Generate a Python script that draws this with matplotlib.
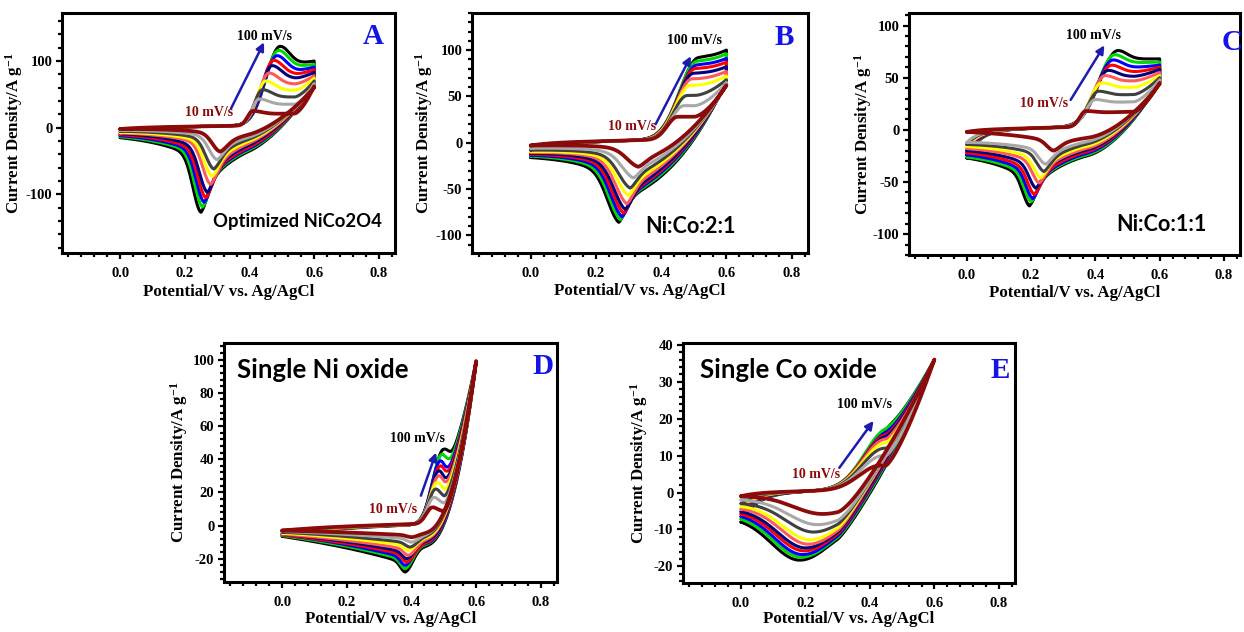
import numpy as np
import matplotlib
matplotlib.use("Agg")
import matplotlib.pyplot as plt
from matplotlib.ticker import MultipleLocator, FormatStrFormatter

plt.rcParams['font.family'] = ['Liberation Serif', 'DejaVu Serif']
plt.rcParams['font.weight'] = 'bold'
plt.rcParams['axes.labelweight'] = 'bold'
plt.rcParams['axes.unicode_minus'] = False
plt.rcParams['mathtext.fontset'] = 'custom'
plt.rcParams['mathtext.bf'] = 'Liberation Serif:bold'
plt.rcParams['mathtext.rm'] = 'Liberation Serif:bold'
plt.rcParams['mathtext.default'] = 'bf'

# ---------------- data ----------------
SCAN_RATES = [10, 20, 30, 40, 50, 60, 70, 80, 90, 100]   # mV/s
COLORS = ['#8b0a0a', '#a8a8a8', '#404040', '#ffff00', '#ff5a5a',
          '#000080', '#ff0000', '#0000ff', '#00d800', '#000000']
X_TICKS = [0.0, 0.2, 0.4, 0.6, 0.8]

# Panel A : Optimized NiCo2O4
A_EPA = [0.41, 0.43, 0.44, 0.45, 0.46, 0.47, 0.475, 0.485, 0.49, 0.495]
A_IPA = [25, 43, 57, 70, 82, 93, 101, 108, 116, 122]
A_I6A = [62, 66, 70, 74, 78, 83, 87, 91, 95, 100]
A_EPC = [0.31, 0.30, 0.29, 0.285, 0.28, 0.27, 0.265, 0.26, 0.255, 0.25]
A_IPC = [-36, -48, -62, -73, -85, -97, -105, -112, -119, -127]
A_I6C = [60, 60, 61, 62, 62, 63, 63, 64, 64, 65]
A_I0 = [-2, -4, -5.5, -7, -8, -9, -10.5, -12, -13.5, -15]
A_IMC = [-10, -14, -17, -20, -23, -26, -29, -31, -33, -35]
A_Y_TICKS = [-100, 0, 100]

# Panel B : Ni:Co 2:1
B_EPA = [0.45, 0.47, 0.48, 0.49, 0.495, 0.5, 0.505, 0.51, 0.51, 0.515]
B_IPA = [28, 40, 51, 62, 69, 75, 80, 84, 88, 92]
B_I6A = [62, 65, 68, 72, 77, 82, 87, 91, 96, 100]
B_EPC = [0.33, 0.315, 0.305, 0.30, 0.295, 0.29, 0.285, 0.28, 0.275, 0.27]
B_IPC = [-26, -38, -49, -57, -66, -72, -76, -80, -83, -86]
B_I6C = [62, 62, 63, 63, 64, 64, 65, 65, 66, 67]
B_I0 = [-3, -6, -8, -9.5, -10.5, -11.5, -12.5, -13.5, -14.5, -16]
B_IMC = [-10, -15, -19, -22, -25, -28, -30, -32, -34, -36]
B_Y_TICKS = [-100, -50, 0, 50, 100]

# Panel C : Ni:Co 1:1
C_EPA = [0.37, 0.40, 0.41, 0.42, 0.43, 0.44, 0.45, 0.455, 0.46, 0.47]
C_IPA = [18, 29, 37, 45, 52, 57, 62, 67, 72, 76]
C_I6A = [45, 48, 50, 52, 55, 58, 60, 62, 65, 68]
C_EPC = [0.27, 0.245, 0.24, 0.23, 0.225, 0.215, 0.21, 0.205, 0.2, 0.195]
C_IPC = [-20, -33, -40, -46, -51, -56, -62, -66, -69, -73]
C_I6C = [44, 44, 44, 45, 45, 45, 46, 46, 46, 47]
C_I0 = [-2, -12, -14, -16, -18, -20, -22, -24, -26, -27]
C_IMC = [-6, -9, -11, -13, -15, -16.5, -18, -19.5, -21, -22]
C_Y_TICKS = [-100, -50, 0, 50, 100]

# Panel D : single Ni oxide
D_EPA = [0.465, 0.47, 0.475, 0.48, 0.485, 0.485, 0.49, 0.49, 0.495, 0.5]
D_IPA = [11, 17, 22, 26, 30, 33, 36, 39, 43, 46]
D_I6A = [99, 99, 99, 99, 99, 99, 99, 99, 99, 99]
D_EPC = [0.40, 0.40, 0.395, 0.39, 0.39, 0.385, 0.385, 0.38, 0.38, 0.38]
D_IPC = [-7, -10, -13, -15, -18, -20, -22, -24, -26, -28]
D_I6C = [99, 99, 99, 99, 99, 99, 99, 99, 99, 99]
D_I0 = [-3, -3.5, -4, -4.5, -5, -5, -5.5, -5.5, -6, -6.5]
D_IMC = [-4, -5, -6, -7, -8, -9, -10, -10.5, -11, -12]
D_Y_TICKS = [-20, 0, 20, 40, 60, 80, 100]

# Panel E : single Co oxide
E_EPA = [0.43, 0.44, 0.445, 0.45, 0.45, 0.455, 0.455, 0.46, 0.46, 0.47]
E_IPA = [7.3, 10, 12, 13.5, 14.5, 15.5, 16, 17, 18, 19]
E_I6A = [36, 36, 36, 36, 36, 36, 36, 36, 36, 36]
E_EPC = [0.25, 0.235, 0.225, 0.215, 0.21, 0.2, 0.195, 0.19, 0.185, 0.18]
E_IPC = [-5.8, -8.7, -10.7, -12.8, -14, -15, -15.8, -16.8, -17.5, -18.3]
E_I6C = [36, 36, 36, 36, 36, 36, 36, 36, 36, 36]
E_I0 = [-1, -2, -3, -3.8, -4.5, -5.2, -5.8, -6.5, -7.2, -8]
E_IMC = [-1.5, -3, -3.5, -4, -4.5, -5, -5.5, -6, -6.5, -7]
E_Y_TICKS = [-20, -10, 0, 10, 20, 30, 40]

# ---------------- curve shape model (per panel) ----------------
SHAPE = {
    'A': dict(eon=0.36, kw=2.2, da=0.06, ka=8, wr=0.04, tail=0.78, eoa=0.54, pa=1.5,
              em=0.40, wlc=0.035, dlc=0.15, mlc=0.35, wrc=0.03, drc=0.13, mrc=0.75, eoc=0.40, pc=1.8),
    'B': dict(eon=0.37, kw=1.8, da=0.06, ka=8, wr=0.05, tail=0.97, eoa=0.50, pa=1.6,
              em=0.40, wlc=0.05, dlc=0.10, mlc=0.40, wrc=0.03, drc=0.15, mrc=0.80, eoc=0.35, pc=2.0),
    'C': dict(eon=0.32, kw=1.9, da=0.04, ka=8, wr=0.04, tail=0.88, eoa=0.52, pa=1.5,
              em=0.40, wlc=0.03, dlc=0.15, mlc=0.55, wrc=0.03, drc=0.12, mrc=0.75, eoc=0.38, pc=1.8),
    'D': dict(eon=0.41, kw=2.0, da=0.20, ka=3, wr=0.02, tail=0.75, eoa=0.50, pa=1.5,
              em=0.45, wlc=0.02, dlc=0.30, mlc=0.70, wrc=0.035, drc=0.05, mrc=0.20, eoc=0.44, pc=2.2),
    'E': dict(eon=0.25, kw=2.0, da=0.05, ka=2, wr=0.05, tail=1.0, eoa=0.45, pa=1.3,
              em=0.35, wlc=0.12, dlc=0.10, mlc=0.0, wrc=0.135, drc=0.10, mrc=0.0, eoc=0.30, pc=1.5),
}


def pa_shape(E, ep, wl, wr, tail):
    E = np.asarray(E, float)
    left = np.exp(-((E - ep) / wl) ** 2)
    right = tail + (1 - tail) * np.exp(-((E - ep) / wr) ** 2)
    return np.where(E < ep, left, right)


def pc_shape(E, ep, s):
    E = np.asarray(E, float)
    d = E - ep
    ad = np.abs(d)
    hi = (1 - s['mrc']) * np.exp(-(ad / s['wrc']) ** 2) + s['mrc'] * np.exp(-ad / s['drc'])
    lo = (1 - s['mlc']) * np.exp(-(ad / s['wlc']) ** 2) + s['mlc'] * np.exp(-ad / s['dlc'])
    return np.where(d > 0, hi, lo)


def oer(E, eo, p):
    E = np.asarray(E, float)
    return np.clip((E - eo) / (0.6 - eo), 0, None) ** p


def cv_loop(epa, ipa, i6a, epc, ipc, i6c, i0, imc, s):
    E = np.linspace(0, 0.6, 500)
    wl = max((epa - s['eon']) / s['kw'], 0.008)
    base = lambda e: i0 * np.exp(-np.asarray(e) / s['da']) + s['ka'] * np.asarray(e)
    pa = lambda e: pa_shape(e, epa, wl, s['wr'], s['tail'])
    oa = lambda e: oer(e, s['eoa'], s['pa'])
    M = np.array([[1.0, float(oa(epa))], [float(pa(0.6)), 1.0]])
    rhs = np.array([ipa - float(base(epa)), i6a - float(base(0.6))])
    Ha, Oa = np.linalg.solve(M, rhs)
    Ia = base(E) + Ha * pa(E) + Oa * oa(E)

    pc = lambda e: pc_shape(e, epc, s)
    oc = lambda e: oer(e, s['eoc'], s['pc'])
    em = s['em']
    M = np.array([
        [1.0, 0.0, float(pc(0.0)), float(oc(0.0))],
        [1.0, epc, 1.0, float(oc(epc))],
        [1.0, em, float(pc(em)), float(oc(em))],
        [1.0, 0.6, float(pc(0.6)), 1.0],
    ])
    rhs = np.array([i0, ipc, imc, i6c])
    C0, kc, Hc, Oc = np.linalg.solve(M, rhs)
    Ic = C0 + kc * E + Hc * pc(E) + Oc * oc(E)
    x = np.concatenate([E, E[::-1]])
    y = np.concatenate([Ia, Ic[::-1]])
    return x, y


PANELS = {
    'A': (A_EPA, A_IPA, A_I6A, A_EPC, A_IPC, A_I6C, A_I0, A_IMC),
    'B': (B_EPA, B_IPA, B_I6A, B_EPC, B_IPC, B_I6C, B_I0, B_IMC),
    'C': (C_EPA, C_IPA, C_I6A, C_EPC, C_IPC, C_I6C, C_I0, C_IMC),
    'D': (D_EPA, D_IPA, D_I6A, D_EPC, D_IPC, D_I6C, D_I0, D_IMC),
    'E': (E_EPA, E_IPA, E_I6A, E_EPC, E_IPC, E_I6C, E_I0, E_IMC),
}

# ---------------- layout ----------------
W, H = 1244, 632
def rect(l, r, t, b):
    return [l / W, 1 - b / H, (r - l) / W, (b - t) / H]

LAYOUT = {
    'A': dict(rect=rect(62, 395, 13, 253), ylim=(-188, 172), yt=A_Y_TICKS, ymin=20, ylx=-0.112, xly=-0.13),
    'B': dict(rect=rect(472, 808, 13, 253), ylim=(-119, 140), yt=B_Y_TICKS, ymin=10, ylx=-0.111, xly=-0.125),
    'C': dict(rect=rect(909, 1240, 13, 255), ylim=(-120, 112), yt=C_Y_TICKS, ymin=10, ylx=-0.107, xly=-0.123),
    'D': dict(rect=rect(224, 557, 343, 582), ylim=(-34, 110), yt=D_Y_TICKS, ymin=4, ylx=-0.103, xly=-0.121),
    'E': dict(rect=rect(683, 1015, 343, 583), ylim=(-24.5, 40.5), yt=E_Y_TICKS, ymin=2, ylx=-0.100, xly=-0.117),
}

NOTES = {
    'A': dict(hi=(0.445, 136), lo=(0.275, 23.5), arr=((0.343, 29), (0.445, 128)),
              name='Optimized NiCo2O4', namepos=(0.708, 0.13), namesize=13.3, letter=(0.934, 0.904)),
    'B': dict(hi=(0.503, 110.7), lo=(0.312, 18), arr=((0.383, 20), (0.491, 93.4)),
              name='Ni:Co:2:1', namepos=(0.65, 0.11), namesize=15.6, letter=(0.93, 0.896)),
    'C': dict(hi=(0.394, 90.7), lo=(0.24, 24.8), arr=((0.323, 28.7), (0.428, 81)),
              name='Ni:Co:1:1', namepos=(0.764, 0.124), namesize=15.6, letter=(0.975, 0.88)),
    'D': dict(hi=(0.42, 52.4), lo=(0.342, 9.6), arr=((0.429, 18), (0.476, 44)),
              name='Single Ni oxide', namepos=(0.04, 0.887), namesize=18.5, letter=(0.958, 0.9)),
    'E': dict(hi=(0.383, 23.8), lo=(0.234, 5.0), arr=((0.305, 6.7), (0.411, 19.4)),
              name='Single Co oxide', namepos=(0.05, 0.8875), namesize=18.5, letter=(0.955, 0.8875)),
}

fig = plt.figure(figsize=(W / 100, H / 100), dpi=100)

for key in ['A', 'B', 'C', 'D', 'E']:
    lay = LAYOUT[key]
    ax = fig.add_axes(lay['rect'])
    data = PANELS[key]
    s = SHAPE[key]
    n = len(SCAN_RATES)
    for i in reversed(range(n)):
        x, y = cv_loop(*[d[i] for d in data], s)
        ax.plot(x, y, color=COLORS[i], lw=2.7 if i == 0 else 2.2, solid_capstyle='round',
                solid_joinstyle='round', zorder=2 + (n - i))
    ax.set_xlim(-0.18, 0.85)
    ax.set_ylim(*lay['ylim'])
    ax.set_xticks(X_TICKS)
    ax.xaxis.set_major_formatter(FormatStrFormatter('%.1f'))
    ax.xaxis.set_minor_locator(MultipleLocator(0.04))
    ax.set_yticks(lay['yt'])
    ax.yaxis.set_minor_locator(MultipleLocator(lay['ymin']))
    ax.tick_params(which='both', direction='out', top=False, right=False, width=1.6, labelsize=10.5)
    ax.tick_params(which='major', length=4)
    ax.tick_params(which='minor', length=3)
    ax.tick_params(axis='x', which='major', pad=6)
    ax.tick_params(axis='y', which='major', pad=3)
    for sp in ax.spines.values():
        sp.set_linewidth(2.2)
    ax.set_xlabel('Potential/V vs. Ag/AgCl', fontsize=12.2)
    ax.set_ylabel('Current Density/A g$^{-1}$', fontsize=12.2)
    ax.yaxis.set_label_coords(lay['ylx'], 0.5)
    ax.xaxis.set_label_coords(0.5, lay['xly'])

    nt = NOTES[key]
    ax.text(*nt['hi'], '100 mV/s', ha='center', va='center', fontsize=10, color='black', zorder=20)
    ax.text(*nt['lo'], '10 mV/s', ha='center', va='center', fontsize=10, color='#8b0a0a', zorder=20)
    ax.annotate('', xy=nt['arr'][1], xytext=nt['arr'][0],
                arrowprops=dict(arrowstyle='-|>', color='#1c1cb0', lw=1.8, mutation_scale=12,
                                shrinkA=0, shrinkB=0), zorder=20)
    ha = 'left' if key in ('D', 'E') else 'center'
    ax.text(*nt['namepos'], nt['name'], transform=ax.transAxes, ha=ha, va='center',
            fontsize=nt['namesize'], family=['Lato', 'DejaVu Sans'], fontweight='bold',
            color='black', zorder=20)
    ax.text(*nt['letter'], key, transform=ax.transAxes, ha='center', va='center',
            fontsize=21, color='#1414e6', fontweight='bold', zorder=20)

fig.savefig('out.png', dpi=100)
